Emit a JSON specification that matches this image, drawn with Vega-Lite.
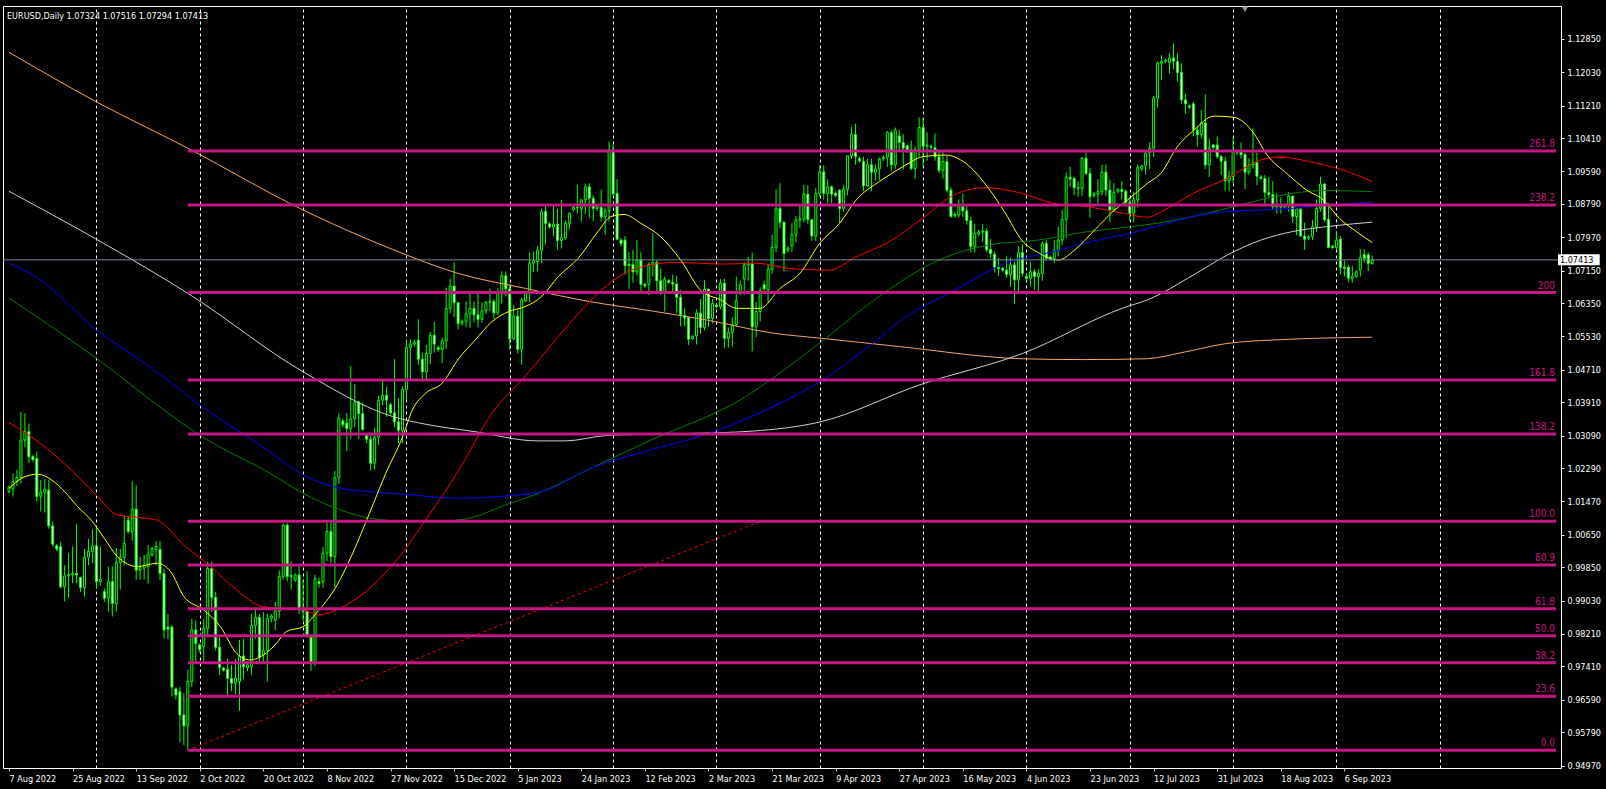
{
"$schema":"https://vega.github.io/schema/vega-lite/v6.json",
"width":1558,"height":762,
"autosize":{"type":"none"},
"padding":{"left":3,"top":6,"right":45,"bottom":21},
"background":"black",
"title":{"text":"EURUSD,Daily  1.07324 1.07516 1.07294 1.07413","anchor":"start","frame":"group","orient":"top","offset":-24,"dx":4,"color":"white","font":"DejaVu Sans Condensed, Liberation Sans","fontSize":9,"fontWeight":"normal","baseline":"bottom"},
"config":{"view":{"stroke":"white","strokeWidth":1}},
"resolve":{"axis":{"x":"independent","y":"independent"}},
"datasets":{
"candles":[
{"i":0,"o":1.0171,"h":1.0186,"l":1.0168,"c":1.0182},{"i":1,"o":1.0178,"h":1.0216,"l":1.0159,"c":1.0196},{"i":2,"o":1.0196,"h":1.0225,"l":1.0185,"c":1.0206},{"i":3,"o":1.0206,"h":1.0368,"l":1.0192,"c":1.0298},{"i":4,"o":1.0298,"h":1.0364,"l":1.0280,"c":1.0319},{"i":5,"o":1.0319,"h":1.0339,"l":1.0241,"c":1.0257},{"i":6,"o":1.0257,"h":1.0262,"l":1.0245,"c":1.0250},{"i":7,"o":1.0253,"h":1.0270,"l":1.0147,"c":1.0159},{"i":8,"o":1.0160,"h":1.0200,"l":1.0122,"c":1.0170},{"i":9,"o":1.0170,"h":1.0202,"l":1.0120,"c":1.0177},
{"i":10,"o":1.0175,"h":1.0200,"l":1.0080,"c":1.0087},{"i":11,"o":1.0087,"h":1.0097,"l":1.0036,"c":1.0042},{"i":12,"o":1.0038,"h":1.0042,"l":1.0025,"c":1.0030},{"i":13,"o":1.0036,"h":1.0047,"l":0.9933,"c":0.9937},{"i":14,"o":0.9937,"h":0.9990,"l":0.9901,"c":0.9964},{"i":15,"o":0.9964,"h":1.0020,"l":0.9909,"c":0.9967},{"i":16,"o":0.9967,"h":1.0036,"l":0.9946,"c":0.9970},{"i":17,"o":0.9970,"h":1.0092,"l":0.9946,"c":0.9966},{"i":18,"o":0.9960,"h":0.9962,"l":0.9925,"c":0.9935},{"i":19,"o":0.9935,"h":1.0030,"l":0.9913,"c":1.0010},
{"i":20,"o":1.0010,"h":1.0055,"l":0.9990,"c":1.0024},{"i":21,"o":1.0024,"h":1.0079,"l":0.9995,"c":1.0038},{"i":22,"o":1.0038,"h":1.0085,"l":0.9934,"c":0.9950},{"i":23,"o":0.9950,"h":1.0036,"l":0.9940,"c":0.9955},{"i":24,"o":0.9925,"h":0.9933,"l":0.9900,"c":0.9909},{"i":25,"o":0.9909,"h":0.9987,"l":0.9876,"c":0.9950},{"i":26,"o":0.9950,"h":0.9987,"l":0.9864,"c":0.9896},{"i":27,"o":0.9896,"h":1.0032,"l":0.9876,"c":0.9997},{"i":28,"o":0.9997,"h":1.0030,"l":0.9930,"c":1.0010},{"i":29,"o":1.0010,"h":1.0113,"l":0.9990,"c":1.0044},
{"i":30,"o":1.0101,"h":1.0110,"l":1.0068,"c":1.0073},{"i":31,"o":1.0073,"h":1.0197,"l":1.0050,"c":1.0128},{"i":32,"o":1.0128,"h":1.0188,"l":0.9954,"c":0.9978},{"i":33,"o":0.9978,"h":1.0010,"l":0.9955,"c":0.9984},{"i":34,"o":0.9983,"h":1.0015,"l":0.9955,"c":0.9990},{"i":35,"o":0.9987,"h":1.0040,"l":0.9945,"c":1.0016},{"i":36,"o":1.0015,"h":1.0035,"l":1.0012,"c":1.0031},{"i":37,"o":1.0029,"h":1.0050,"l":0.9990,"c":1.0037},{"i":38,"o":1.0029,"h":1.0050,"l":0.9954,"c":0.9970},{"i":39,"o":0.9970,"h":0.9982,"l":0.9810,"c":0.9831},
{"i":40,"o":0.9838,"h":0.9870,"l":0.9808,"c":0.9833},{"i":41,"o":0.9838,"h":0.9843,"l":0.9667,"c":0.9690},{"i":42,"o":0.9686,"h":0.9690,"l":0.9660,"c":0.9671},{"i":43,"o":0.9679,"h":0.9690,"l":0.9555,"c":0.9622},{"i":44,"o":0.9622,"h":0.9675,"l":0.9548,"c":0.9595},{"i":45,"o":0.9595,"h":0.9733,"l":0.9535,"c":0.9704},{"i":46,"o":0.9704,"h":0.9858,"l":0.9690,"c":0.9831},{"i":47,"o":0.9831,"h":0.9855,"l":0.9750,"c":0.9798},{"i":48,"o":0.9794,"h":0.9798,"l":0.9775,"c":0.9782},{"i":49,"o":0.9790,"h":0.9858,"l":0.9750,"c":0.9835},
{"i":50,"o":0.9835,"h":0.9999,"l":0.9812,"c":0.9982},{"i":51,"o":0.9982,"h":0.9999,"l":0.9875,"c":0.9911},{"i":52,"o":0.9911,"h":0.9925,"l":0.9780,"c":0.9788},{"i":53,"o":0.9788,"h":0.9815,"l":0.9720,"c":0.9739},{"i":54,"o":0.9737,"h":0.9740,"l":0.9728,"c":0.9732},{"i":55,"o":0.9734,"h":0.9760,"l":0.9670,"c":0.9712},{"i":56,"o":0.9712,"h":0.9745,"l":0.9680,"c":0.9700},{"i":57,"o":0.9700,"h":0.9759,"l":0.9673,"c":0.9713},{"i":58,"o":0.9704,"h":0.9806,"l":0.9632,"c":0.9765},{"i":59,"o":0.9767,"h":0.9809,"l":0.9710,"c":0.9741},
{"i":60,"o":0.9738,"h":0.9750,"l":0.9730,"c":0.9745},{"i":61,"o":0.9741,"h":0.9870,"l":0.9720,"c":0.9842},{"i":62,"o":0.9842,"h":0.9880,"l":0.9810,"c":0.9862},{"i":63,"o":0.9862,"h":0.9870,"l":0.9750,"c":0.9764},{"i":64,"o":0.9770,"h":0.9875,"l":0.9750,"c":0.9780},{"i":65,"o":0.9780,"h":0.9870,"l":0.9704,"c":0.9860},{"i":66,"o":0.9860,"h":0.9870,"l":0.9850,"c":0.9865},{"i":67,"o":0.9855,"h":0.9900,"l":0.9830,"c":0.9877},{"i":68,"o":0.9877,"h":0.9977,"l":0.9860,"c":0.9962},{"i":69,"o":0.9962,"h":1.0093,"l":0.9955,"c":1.0089},
{"i":70,"o":1.0089,"h":1.0093,"l":0.9950,"c":0.9962},{"i":71,"o":0.9962,"h":1.0000,"l":0.9930,"c":0.9965},{"i":72,"o":0.9953,"h":0.9970,"l":0.9950,"c":0.9966},{"i":73,"o":0.9966,"h":0.9990,"l":0.9870,"c":0.9880},{"i":74,"o":0.9880,"h":0.9954,"l":0.9853,"c":0.9877},{"i":75,"o":0.9877,"h":0.9976,"l":0.9812,"c":0.9817},{"i":76,"o":0.9814,"h":0.9820,"l":0.9730,"c":0.9748},{"i":77,"o":0.9748,"h":0.9967,"l":0.9742,"c":0.9958},{"i":78,"o":0.9950,"h":0.9960,"l":0.9935,"c":0.9945},{"i":79,"o":0.9950,"h":1.0035,"l":0.9935,"c":1.0020},
{"i":80,"o":1.0020,"h":1.0094,"l":1.0000,"c":1.0073},{"i":81,"o":1.0073,"h":1.0097,"l":0.9995,"c":1.0011},{"i":82,"o":1.0011,"h":1.0222,"l":0.9935,"c":1.0205},{"i":83,"o":1.0205,"h":1.0364,"l":1.0190,"c":1.0352},{"i":84,"o":1.0345,"h":1.0350,"l":1.0330,"c":1.0336},{"i":85,"o":1.0340,"h":1.0365,"l":1.0271,"c":1.0326},{"i":86,"o":1.0326,"h":1.0480,"l":1.0302,"c":1.0350},{"i":87,"o":1.0350,"h":1.0436,"l":1.0330,"c":1.0392},{"i":88,"o":1.0392,"h":1.0395,"l":1.0300,"c":1.0363},{"i":89,"o":1.0363,"h":1.0390,"l":1.0321,"c":1.0324},
{"i":90,"o":1.0310,"h":1.0315,"l":1.0290,"c":1.0300},{"i":91,"o":1.0300,"h":1.0310,"l":1.0223,"c":1.0241},{"i":92,"o":1.0241,"h":1.0329,"l":1.0226,"c":1.0305},{"i":93,"o":1.0305,"h":1.0407,"l":1.0286,"c":1.0396},{"i":94,"o":1.0396,"h":1.0448,"l":1.0383,"c":1.0408},{"i":95,"o":1.0408,"h":1.0429,"l":1.0355,"c":1.0396},{"i":96,"o":1.0385,"h":1.0390,"l":1.0360,"c":1.0365},{"i":97,"o":1.0365,"h":1.0497,"l":1.0330,"c":1.0343},{"i":98,"o":1.0343,"h":1.0401,"l":1.0290,"c":1.0322},{"i":99,"o":1.0322,"h":1.0430,"l":1.0290,"c":1.0422},
{"i":100,"o":1.0422,"h":1.0545,"l":1.0397,"c":1.0526},{"i":101,"o":1.0526,"h":1.0546,"l":1.0444,"c":1.0534},{"i":102,"o":1.0534,"h":1.0545,"l":1.0528,"c":1.0538},{"i":103,"o":1.0544,"h":1.0595,"l":1.0483,"c":1.0497},{"i":104,"o":1.0497,"h":1.0513,"l":1.0442,"c":1.0466},{"i":105,"o":1.0466,"h":1.0532,"l":1.0444,"c":1.0511},{"i":106,"o":1.0511,"h":1.0564,"l":1.0485,"c":1.0556},{"i":107,"o":1.0556,"h":1.0589,"l":1.0513,"c":1.0534},{"i":108,"o":1.0525,"h":1.0530,"l":1.0515,"c":1.0521},{"i":109,"o":1.0521,"h":1.0550,"l":1.0487,"c":1.0542},
{"i":110,"o":1.0542,"h":1.0673,"l":1.0522,"c":1.0622},{"i":111,"o":1.0622,"h":1.0695,"l":1.0610,"c":1.0677},{"i":112,"o":1.0677,"h":1.0736,"l":1.0600,"c":1.0636},{"i":113,"o":1.0636,"h":1.0637,"l":1.0570,"c":1.0585},{"i":114,"o":1.0585,"h":1.0595,"l":1.0580,"c":1.0590},{"i":115,"o":1.0590,"h":1.0639,"l":1.0575,"c":1.0608},{"i":116,"o":1.0608,"h":1.0658,"l":1.0573,"c":1.0622},{"i":117,"o":1.0622,"h":1.0639,"l":1.0588,"c":1.0606},{"i":118,"o":1.0606,"h":1.0659,"l":1.0575,"c":1.0595},{"i":119,"o":1.0595,"h":1.0637,"l":1.0587,"c":1.0616},
{"i":120,"o":1.0616,"h":1.0640,"l":1.0608,"c":1.0637},{"i":121,"o":1.0637,"h":1.0671,"l":1.0615,"c":1.0639},{"i":122,"o":1.0639,"h":1.0645,"l":1.0596,"c":1.0611},{"i":123,"o":1.0611,"h":1.0673,"l":1.0606,"c":1.0661},{"i":124,"o":1.0661,"h":1.0713,"l":1.0634,"c":1.0702},{"i":125,"o":1.0702,"h":1.0713,"l":1.0651,"c":1.0670},{"i":126,"o":1.0670,"h":1.0683,"l":1.0519,"c":1.0547},{"i":127,"o":1.0547,"h":1.0630,"l":1.0544,"c":1.0603},{"i":128,"o":1.0603,"h":1.0620,"l":1.0511,"c":1.0521},{"i":129,"o":1.0521,"h":1.0648,"l":1.0483,"c":1.0643},
{"i":130,"o":1.0640,"h":1.0665,"l":1.0638,"c":1.0662},{"i":131,"o":1.0663,"h":1.0760,"l":1.0637,"c":1.0733},{"i":132,"o":1.0733,"h":1.0762,"l":1.0712,"c":1.0739},{"i":133,"o":1.0737,"h":1.0776,"l":1.0713,"c":1.0765},{"i":134,"o":1.0765,"h":1.0868,"l":1.0734,"c":1.0860},{"i":135,"o":1.0860,"h":1.0874,"l":1.0780,"c":1.0831},{"i":136,"o":1.0830,"h":1.0834,"l":1.0818,"c":1.0822},{"i":137,"o":1.0822,"h":1.0874,"l":1.0800,"c":1.0829},{"i":138,"o":1.0829,"h":1.0867,"l":1.0766,"c":1.0789},{"i":139,"o":1.0789,"h":1.0889,"l":1.0769,"c":1.0796},
{"i":140,"o":1.0796,"h":1.0838,"l":1.0791,"c":1.0831},{"i":141,"o":1.0831,"h":1.0858,"l":1.0816,"c":1.0856},{"i":142,"o":1.0865,"h":1.0873,"l":1.0860,"c":1.0870},{"i":143,"o":1.0870,"h":1.0926,"l":1.0855,"c":1.0871},{"i":144,"o":1.0867,"h":1.0890,"l":1.0835,"c":1.0889},{"i":145,"o":1.0889,"h":1.0929,"l":1.0854,"c":1.0921},{"i":146,"o":1.0921,"h":1.0930,"l":1.0844,"c":1.0893},{"i":147,"o":1.0893,"h":1.0900,"l":1.0836,"c":1.0868},{"i":148,"o":1.0868,"h":1.0876,"l":1.0862,"c":1.0872},{"i":149,"o":1.0870,"h":1.0914,"l":1.0836,"c":1.0847},
{"i":150,"o":1.0847,"h":1.0870,"l":1.0803,"c":1.0862},{"i":151,"o":1.0862,"h":1.1032,"l":1.0835,"c":1.1012},{"i":152,"o":1.1012,"h":1.1026,"l":1.0900,"c":1.0903},{"i":153,"o":1.0905,"h":1.0940,"l":1.0790,"c":1.0792},{"i":154,"o":1.0790,"h":1.0795,"l":1.0775,"c":1.0782},{"i":155,"o":1.0790,"h":1.0800,"l":1.0705,"c":1.0727},{"i":156,"o":1.0727,"h":1.0760,"l":1.0670,"c":1.0730},{"i":157,"o":1.0730,"h":1.0765,"l":1.0685,"c":1.0712},{"i":158,"o":1.0712,"h":1.0790,"l":1.0703,"c":1.0741},{"i":159,"o":1.0741,"h":1.0760,"l":1.0660,"c":1.0681},
{"i":160,"o":1.0681,"h":1.0685,"l":1.0672,"c":1.0677},{"i":161,"o":1.0681,"h":1.0735,"l":1.0655,"c":1.0730},{"i":162,"o":1.0730,"h":1.0807,"l":1.0700,"c":1.0735},{"i":163,"o":1.0735,"h":1.0741,"l":1.0660,"c":1.0690},{"i":164,"o":1.0690,"h":1.0720,"l":1.0655,"c":1.0663},{"i":165,"o":1.0663,"h":1.0700,"l":1.0614,"c":1.0694},{"i":166,"o":1.0690,"h":1.0694,"l":1.0682,"c":1.0686},{"i":167,"o":1.0686,"h":1.0705,"l":1.0660,"c":1.0682},{"i":168,"o":1.0682,"h":1.0702,"l":1.0610,"c":1.0649},{"i":169,"o":1.0649,"h":1.0667,"l":1.0577,"c":1.0606},
{"i":170,"o":1.0605,"h":1.0622,"l":1.0577,"c":1.0598},{"i":171,"o":1.0600,"h":1.0600,"l":1.0532,"c":1.0546},{"i":172,"o":1.0548,"h":1.0556,"l":1.0545,"c":1.0553},{"i":173,"o":1.0554,"h":1.0620,"l":1.0533,"c":1.0610},{"i":174,"o":1.0610,"h":1.0645,"l":1.0560,"c":1.0575},{"i":175,"o":1.0575,"h":1.0691,"l":1.0568,"c":1.0669},{"i":176,"o":1.0669,"h":1.0671,"l":1.0577,"c":1.0597},{"i":177,"o":1.0597,"h":1.0645,"l":1.0585,"c":1.0634},{"i":178,"o":1.0630,"h":1.0634,"l":1.0622,"c":1.0626},{"i":179,"o":1.0626,"h":1.0694,"l":1.0620,"c":1.0684},
{"i":180,"o":1.0684,"h":1.0695,"l":1.0524,"c":1.0548},{"i":181,"o":1.0548,"h":1.0575,"l":1.0525,"c":1.0563},{"i":182,"o":1.0563,"h":1.0600,"l":1.0528,"c":1.0582},{"i":183,"o":1.0582,"h":1.0700,"l":1.0577,"c":1.0641},{"i":184,"o":1.0660,"h":1.0690,"l":1.0655,"c":1.0680},{"i":185,"o":1.0694,"h":1.0736,"l":1.0655,"c":1.0729},{"i":186,"o":1.0729,"h":1.0749,"l":1.0690,"c":1.0733},{"i":187,"o":1.0732,"h":1.0759,"l":1.0516,"c":1.0577},{"i":188,"o":1.0577,"h":1.0638,"l":1.0551,"c":1.0614},{"i":189,"o":1.0614,"h":1.0674,"l":1.0590,"c":1.0665},
{"i":190,"o":1.0680,"h":1.0690,"l":1.0660,"c":1.0670},{"i":191,"o":1.0668,"h":1.0729,"l":1.0636,"c":1.0718},{"i":192,"o":1.0718,"h":1.0803,"l":1.0707,"c":1.0772},{"i":193,"o":1.0772,"h":1.0915,"l":1.0760,"c":1.0868},{"i":194,"o":1.0868,"h":1.0930,"l":1.0819,"c":1.0834},{"i":195,"o":1.0834,"h":1.0835,"l":1.0713,"c":1.0757},{"i":196,"o":1.0765,"h":1.0775,"l":1.0760,"c":1.0770},{"i":197,"o":1.0776,"h":1.0831,"l":1.0760,"c":1.0804},{"i":198,"o":1.0804,"h":1.0849,"l":1.0785,"c":1.0839},{"i":199,"o":1.0839,"h":1.0875,"l":1.0820,"c":1.0843},
{"i":200,"o":1.0841,"h":1.0926,"l":1.0833,"c":1.0903},{"i":201,"o":1.0903,"h":1.0925,"l":1.0830,"c":1.0841},{"i":202,"o":1.0840,"h":1.0842,"l":1.0788,"c":1.0800},{"i":203,"o":1.0800,"h":1.0918,"l":1.0788,"c":1.0905},{"i":204,"o":1.0905,"h":1.0973,"l":1.0897,"c":1.0958},{"i":205,"o":1.0958,"h":1.0974,"l":1.0890,"c":1.0905},{"i":206,"o":1.0905,"h":1.0940,"l":1.0880,"c":1.0921},{"i":207,"o":1.0921,"h":1.0925,"l":1.0880,"c":1.0903},{"i":208,"o":1.0905,"h":1.0910,"l":1.0895,"c":1.0900},{"i":209,"o":1.0913,"h":1.0915,"l":1.0832,"c":1.0868},
{"i":210,"o":1.0868,"h":1.0925,"l":1.0860,"c":1.0915},{"i":211,"o":1.0915,"h":1.0998,"l":1.0900,"c":1.0997},{"i":212,"o":1.0997,"h":1.1069,"l":1.0990,"c":1.1050},{"i":213,"o":1.1050,"h":1.1076,"l":1.0975,"c":1.0995},{"i":214,"o":1.0990,"h":1.0995,"l":1.0980,"c":1.0985},{"i":215,"o":1.0983,"h":1.0995,"l":1.0910,"c":1.0923},{"i":216,"o":1.0923,"h":1.0990,"l":1.0920,"c":1.0975},{"i":217,"o":1.0975,"h":1.0990,"l":1.0910,"c":1.0957},{"i":218,"o":1.0957,"h":1.0976,"l":1.0936,"c":1.0965},{"i":219,"o":1.0965,"h":1.0993,"l":1.0937,"c":1.0989},
{"i":220,"o":1.0990,"h":1.0998,"l":1.0985,"c":1.0994},{"i":221,"o":1.0994,"h":1.1058,"l":1.0970,"c":1.1055},{"i":222,"o":1.1054,"h":1.1060,"l":1.0960,"c":1.0975},{"i":223,"o":1.0975,"h":1.1067,"l":1.0965,"c":1.1061},{"i":224,"o":1.1046,"h":1.1062,"l":1.1010,"c":1.1030},{"i":225,"o":1.1030,"h":1.1051,"l":1.0963,"c":1.1016},{"i":226,"o":1.1022,"h":1.1025,"l":1.1005,"c":1.1010},{"i":227,"o":1.1012,"h":1.1035,"l":1.0962,"c":1.0966},{"i":228,"o":1.0966,"h":1.1020,"l":1.0941,"c":1.1013},{"i":229,"o":1.1013,"h":1.1092,"l":1.0995,"c":1.1067},
{"i":230,"o":1.1067,"h":1.1091,"l":1.0970,"c":1.1021},{"i":231,"o":1.1021,"h":1.1055,"l":1.0985,"c":1.1024},{"i":232,"o":1.1020,"h":1.1025,"l":1.1012,"c":1.1018},{"i":233,"o":1.1017,"h":1.1052,"l":1.0985,"c":1.0995},{"i":234,"o":1.0995,"h":1.1010,"l":1.0955,"c":1.0962},{"i":235,"o":1.0962,"h":1.1006,"l":1.0941,"c":1.0983},{"i":236,"o":1.0983,"h":1.0998,"l":1.0907,"c":1.0913},{"i":237,"o":1.0913,"h":1.0920,"l":1.0845,"c":1.0848},{"i":238,"o":1.0850,"h":1.0858,"l":1.0845,"c":1.0853},{"i":239,"o":1.0852,"h":1.0890,"l":1.0845,"c":1.0872},
{"i":240,"o":1.0872,"h":1.0904,"l":1.0847,"c":1.0862},{"i":241,"o":1.0862,"h":1.0876,"l":1.0828,"c":1.0838},{"i":242,"o":1.0838,"h":1.0847,"l":1.0760,"c":1.0774},{"i":243,"o":1.0774,"h":1.0830,"l":1.0759,"c":1.0807},{"i":244,"o":1.0805,"h":1.0815,"l":1.0800,"c":1.0810},{"i":245,"o":1.0810,"h":1.0830,"l":1.0785,"c":1.0812},{"i":246,"o":1.0812,"h":1.0820,"l":1.0760,"c":1.0766},{"i":247,"o":1.0767,"h":1.0793,"l":1.0746,"c":1.0757},{"i":248,"o":1.0755,"h":1.0762,"l":1.0710,"c":1.0723},{"i":249,"o":1.0723,"h":1.0746,"l":1.0702,"c":1.0720},
{"i":250,"o":1.0720,"h":1.0724,"l":1.0712,"c":1.0716},{"i":251,"o":1.0716,"h":1.0750,"l":1.0697,"c":1.0705},{"i":252,"o":1.0705,"h":1.0746,"l":1.0675,"c":1.0729},{"i":253,"o":1.0729,"h":1.0737,"l":1.0634,"c":1.0692},{"i":254,"o":1.0692,"h":1.0775,"l":1.0664,"c":1.0759},{"i":255,"o":1.0759,"h":1.0780,"l":1.0700,"c":1.0708},{"i":256,"o":1.0700,"h":1.0707,"l":1.0690,"c":1.0696},{"i":257,"o":1.0696,"h":1.0737,"l":1.0676,"c":1.0712},{"i":258,"o":1.0712,"h":1.0719,"l":1.0668,"c":1.0700},{"i":259,"o":1.0700,"h":1.0718,"l":1.0665,"c":1.0708},
{"i":260,"o":1.0708,"h":1.0787,"l":1.0690,"c":1.0782},{"i":261,"o":1.0782,"h":1.0790,"l":1.0740,"c":1.0745},{"i":262,"o":1.0748,"h":1.0752,"l":1.0740,"c":1.0745},{"i":263,"o":1.0745,"h":1.0790,"l":1.0733,"c":1.0764},{"i":264,"o":1.0764,"h":1.0823,"l":1.0750,"c":1.0790},{"i":265,"o":1.0790,"h":1.0864,"l":1.0778,"c":1.0841},{"i":266,"o":1.0841,"h":1.0956,"l":1.0795,"c":1.0944},{"i":267,"o":1.0944,"h":1.0970,"l":1.0921,"c":1.0940},{"i":268,"o":1.0942,"h":1.0945,"l":1.0900,"c":1.0919},{"i":269,"o":1.0919,"h":1.0934,"l":1.0896,"c":1.0917},
{"i":270,"o":1.0917,"h":1.0995,"l":1.0898,"c":1.0991},{"i":271,"o":1.0991,"h":1.1012,"l":1.0950,"c":1.0954},{"i":272,"o":1.0954,"h":1.0968,"l":1.0845,"c":1.0897},{"i":273,"o":1.0900,"h":1.0908,"l":1.0895,"c":1.0904},{"i":274,"o":1.0904,"h":1.0940,"l":1.0880,"c":1.0909},{"i":275,"o":1.0909,"h":1.0975,"l":1.0900,"c":1.0957},{"i":276,"o":1.0957,"h":1.0976,"l":1.0898,"c":1.0913},{"i":277,"o":1.0913,"h":1.0939,"l":1.0835,"c":1.0864},{"i":278,"o":1.0864,"h":1.0930,"l":1.0861,"c":1.0907},{"i":279,"o":1.0910,"h":1.0918,"l":1.0905,"c":1.0914},
{"i":280,"o":1.0914,"h":1.0935,"l":1.0890,"c":1.0910},{"i":281,"o":1.0910,"h":1.0915,"l":1.0875,"c":1.0882},{"i":282,"o":1.0882,"h":1.0895,"l":1.0837,"c":1.0856},{"i":283,"o":1.0856,"h":1.0908,"l":1.0833,"c":1.0889},{"i":284,"o":1.0889,"h":1.0975,"l":1.0870,"c":1.0969},{"i":285,"o":1.0965,"h":1.0975,"l":1.0960,"c":1.0972},{"i":286,"o":1.0974,"h":1.1010,"l":1.0951,"c":1.1004},{"i":287,"o":1.1004,"h":1.1030,"l":1.0965,"c":1.1016},{"i":288,"o":1.1016,"h":1.1145,"l":1.0995,"c":1.1139},{"i":289,"o":1.1139,"h":1.1230,"l":1.1116,"c":1.1225},
{"i":290,"o":1.1225,"h":1.1245,"l":1.1185,"c":1.1229},{"i":291,"o":1.1230,"h":1.1236,"l":1.1225,"c":1.1232},{"i":292,"o":1.1226,"h":1.1250,"l":1.1200,"c":1.1238},{"i":293,"o":1.1238,"h":1.1274,"l":1.1210,"c":1.1230},{"i":294,"o":1.1229,"h":1.1250,"l":1.1180,"c":1.1202},{"i":295,"o":1.1202,"h":1.1225,"l":1.1125,"c":1.1135},{"i":296,"o":1.1135,"h":1.1150,"l":1.1100,"c":1.1125},{"i":297,"o":1.1120,"h":1.1124,"l":1.1112,"c":1.1117},{"i":298,"o":1.1125,"h":1.1130,"l":1.1045,"c":1.1061},{"i":299,"o":1.1061,"h":1.1070,"l":1.1020,"c":1.1049},
{"i":300,"o":1.1049,"h":1.1110,"l":1.1040,"c":1.1078},{"i":301,"o":1.1078,"h":1.1149,"l":1.0965,"c":1.0975},{"i":302,"o":1.0975,"h":1.1040,"l":1.0945,"c":1.1016},{"i":303,"o":1.1024,"h":1.1026,"l":1.1012,"c":1.1018},{"i":304,"o":1.1024,"h":1.1045,"l":1.0990,"c":1.0995},{"i":305,"o":1.0995,"h":1.1000,"l":1.0950,"c":1.0984},{"i":306,"o":1.0984,"h":1.0995,"l":1.0912,"c":1.0936},{"i":307,"o":1.0936,"h":1.0960,"l":1.0910,"c":1.0946},{"i":308,"o":1.0946,"h":1.1042,"l":1.0930,"c":1.1007},{"i":309,"o":1.1005,"h":1.1012,"l":1.1000,"c":1.1008},
{"i":310,"o":1.1008,"h":1.1030,"l":1.0990,"c":1.1000},{"i":311,"o":1.1000,"h":1.1005,"l":1.0915,"c":1.0957},{"i":312,"o":1.0957,"h":1.0992,"l":1.0950,"c":1.0975},{"i":313,"o":1.0975,"h":1.1065,"l":1.0965,"c":1.0981},{"i":314,"o":1.0981,"h":1.1005,"l":1.0925,"c":1.0947},{"i":315,"o":1.0945,"h":1.0950,"l":1.0938,"c":1.0942},{"i":316,"o":1.0942,"h":1.0950,"l":1.0875,"c":1.0907},{"i":317,"o":1.0907,"h":1.0945,"l":1.0895,"c":1.0902},{"i":318,"o":1.0902,"h":1.0935,"l":1.0865,"c":1.0872},{"i":319,"o":1.0872,"h":1.0905,"l":1.0855,"c":1.0875},
{"i":320,"o":1.0875,"h":1.0895,"l":1.0855,"c":1.0872},{"i":321,"o":1.0872,"h":1.0880,"l":1.0868,"c":1.0876},{"i":322,"o":1.0876,"h":1.0908,"l":1.0860,"c":1.0898},{"i":323,"o":1.0898,"h":1.0900,"l":1.0832,"c":1.0848},{"i":324,"o":1.0848,"h":1.0868,"l":1.0802,"c":1.0866},{"i":325,"o":1.0866,"h":1.0869,"l":1.0798,"c":1.0800},{"i":326,"o":1.0800,"h":1.0833,"l":1.0766,"c":1.0792},{"i":327,"o":1.0795,"h":1.0802,"l":1.0790,"c":1.0798},{"i":328,"o":1.0798,"h":1.0840,"l":1.0790,"c":1.0823},{"i":329,"o":1.0823,"h":1.0890,"l":1.0810,"c":1.0868},
{"i":330,"o":1.0868,"h":1.0946,"l":1.0860,"c":1.0928},{"i":331,"o":1.0928,"h":1.0930,"l":1.0835,"c":1.0840},{"i":332,"o":1.0841,"h":1.0881,"l":1.0770,"c":1.0772},{"i":333,"o":1.0775,"h":1.0778,"l":1.0768,"c":1.0772},{"i":334,"o":1.0772,"h":1.0810,"l":1.0767,"c":1.0790},{"i":335,"o":1.0792,"h":1.0800,"l":1.0705,"c":1.0723},{"i":336,"o":1.0723,"h":1.0740,"l":1.0700,"c":1.0720},{"i":337,"o":1.0723,"h":1.0729,"l":1.0686,"c":1.0696},{"i":338,"o":1.0696,"h":1.0727,"l":1.0685,"c":1.0700},{"i":339,"o":1.0700,"h":1.0716,"l":1.0698,"c":1.0712},
{"i":340,"o":1.0716,"h":1.0768,"l":1.0700,"c":1.0747},{"i":341,"o":1.0754,"h":1.0768,"l":1.0735,"c":1.0745},{"i":342,"o":1.0754,"h":1.0760,"l":1.0714,"c":1.0733},{"i":343,"o":1.07324,"h":1.07516,"l":1.07294,"c":1.07413}
],
"maYellow":[{"i":0,"v":1.0179},{"i":4,"v":1.0208},{"i":7.3,"v":1.0214},{"i":10.7,"v":1.0200},{"i":14,"v":1.0171},{"i":17.3,"v":1.0134},{"i":20.7,"v":1.0101},{"i":24,"v":1.0056},{"i":27.3,"v":1.0011},{"i":29.8,"v":0.9993},{"i":32.3,"v":0.9987},{"i":37.3,"v":0.9995},{"i":40.7,"v":0.9974},{"i":44,"v":0.9913},{"i":49,"v":0.9880},{"i":53.2,"v":0.9839},{"i":57.3,"v":0.9773},{"i":60.7,"v":0.9757},{"i":64,"v":0.9769},{"i":67.3,"v":0.9798},{"i":69.8,"v":0.9827},{"i":74,"v":0.9839},{"i":77.3,"v":0.9872},{"i":82.3,"v":0.9937},{"i":86.5,"v":1.0020},{"i":90.7,"v":1.0118},{"i":94.8,"v":1.0216},{"i":99,"v":1.0305},{"i":101.5,"v":1.0372},{"i":104.8,"v":1.0413},{"i":109,"v":1.0438},{"i":113.2,"v":1.0499},{"i":117.3,"v":1.0544},{"i":121.5,"v":1.0589},{"i":125.7,"v":1.0614},{"i":129.8,"v":1.0626},{"i":134,"v":1.0651},{"i":138.2,"v":1.0700},{"i":143.2,"v":1.0745},{"i":148.2,"v":1.0811},{"i":151.5,"v":1.0848},{"i":154.8,"v":1.0853},{"i":159,"v":1.0831},{"i":164,"v":1.0798},{"i":169,"v":1.0741},{"i":174,"v":1.0667},{"i":179,"v":1.0643},{"i":183.2,"v":1.0622},{"i":189,"v":1.0622},{"i":194,"v":1.0671},{"i":199,"v":1.0708},{"i":204,"v":1.0782},{"i":209,"v":1.0831},{"i":213.2,"v":1.0889},{"i":219,"v":1.0934},{"i":221.5,"v":1.0950},{"i":225.7,"v":1.0975},{"i":229.8,"v":1.0995},{"i":235.7,"v":1.0999},{"i":240.7,"v":1.0979},{"i":246.5,"v":1.0917},{"i":250.7,"v":1.0856},{"i":254.8,"v":1.0790},{"i":259,"v":1.0759},{"i":264,"v":1.0741},{"i":268.2,"v":1.0766},{"i":273.2,"v":1.0815},{"i":278.2,"v":1.0864},{"i":281.5,"v":1.0889},{"i":286.5,"v":1.0930},{"i":289.8,"v":1.0954},{"i":294,"v":1.1020},{"i":298.2,"v":1.1061},{"i":303.2,"v":1.1095},{"i":308.2,"v":1.1092},{"i":313.2,"v":1.1053},{"i":316.5,"v":1.1000},{"i":321.5,"v":1.0954},{"i":326.5,"v":1.0913},{"i":330.7,"v":1.0889},{"i":334.8,"v":1.0843},{"i":339,"v":1.0811},{"i":343,"v":1.0784}],
"maRed":[{"i":0,"v":1.0341},{"i":9,"v":1.0282},{"i":15.7,"v":1.0224},{"i":22.3,"v":1.0159},{"i":27.3,"v":1.0114},{"i":34,"v":1.0106},{"i":37.3,"v":1.0101},{"i":44,"v":1.0040},{"i":50.7,"v":0.9987},{"i":57.3,"v":0.9929},{"i":64,"v":0.9888},{"i":74,"v":0.9880},{"i":78,"v":0.9868},{"i":82.3,"v":0.9880},{"i":90.7,"v":0.9933},{"i":98.2,"v":1.0011},{"i":104.8,"v":1.0101},{"i":113.2,"v":1.0224},{"i":121.5,"v":1.0364},{"i":129.8,"v":1.0454},{"i":138.2,"v":1.0552},{"i":146.5,"v":1.0643},{"i":154.8,"v":1.0708},{"i":161.5,"v":1.0729},{"i":167.3,"v":1.0735},{"i":179.8,"v":1.0731},{"i":188.2,"v":1.0733},{"i":196.5,"v":1.0720},{"i":206.5,"v":1.0716},{"i":213.2,"v":1.0749},{"i":221.5,"v":1.0786},{"i":229.8,"v":1.0843},{"i":238.2,"v":1.0903},{"i":245.7,"v":1.0919},{"i":254.8,"v":1.0905},{"i":263,"v":1.0880},{"i":271.5,"v":1.0872},{"i":279.8,"v":1.0857},{"i":286.5,"v":1.0846},{"i":290,"v":1.0860},{"i":298,"v":1.0905},{"i":306.5,"v":1.0942},{"i":315,"v":1.0987},{"i":320,"v":1.0994},{"i":327.3,"v":1.0983},{"i":335.7,"v":1.0962},{"i":343,"v":1.0934}],
"maGreen":[{"i":0,"v":1.0647},{"i":22,"v":1.0499},{"i":39,"v":1.0372},{"i":48,"v":1.0310},{"i":65.7,"v":1.0216},{"i":74,"v":1.0167},{"i":82.3,"v":1.0130},{"i":92.7,"v":1.0103},{"i":104,"v":1.0097},{"i":114.4,"v":1.0103},{"i":124.8,"v":1.0138},{"i":133.2,"v":1.0167},{"i":146.5,"v":1.0229},{"i":161.5,"v":1.0298},{"i":184,"v":1.0397},{"i":202.3,"v":1.0524},{"i":221.5,"v":1.0669},{"i":234,"v":1.0741},{"i":246.5,"v":1.0778},{"i":259,"v":1.0790},{"i":271.5,"v":1.0811},{"i":281.5,"v":1.0822},{"i":290,"v":1.0833},{"i":298,"v":1.0848},{"i":306.5,"v":1.0868},{"i":315,"v":1.0889},{"i":323,"v":1.0905},{"i":331.5,"v":1.0912},{"i":343,"v":1.0909}],
"maBlue":[{"i":0,"v":1.0733},{"i":7.3,"v":1.0696},{"i":22,"v":1.0569},{"i":32.3,"v":1.0499},{"i":39.8,"v":1.0446},{"i":48,"v":1.0384},{"i":65.7,"v":1.0269},{"i":74,"v":1.0212},{"i":82.3,"v":1.0182},{"i":90.7,"v":1.0171},{"i":99,"v":1.0165},{"i":113,"v":1.0155},{"i":125.7,"v":1.0161},{"i":134,"v":1.0171},{"i":146.5,"v":1.0229},{"i":161.5,"v":1.0274},{"i":175.7,"v":1.0313},{"i":195.7,"v":1.0397},{"i":204.8,"v":1.0446},{"i":217.3,"v":1.0536},{"i":224.8,"v":1.0595},{"i":238,"v":1.0667},{"i":250.7,"v":1.0733},{"i":263,"v":1.0762},{"i":275.7,"v":1.0794},{"i":281.5,"v":1.0805},{"i":290,"v":1.0827},{"i":298,"v":1.0848},{"i":306.5,"v":1.0860},{"i":315,"v":1.0864},{"i":323,"v":1.0868},{"i":331.5,"v":1.0876},{"i":343,"v":1.0883}],
"maWhite":[{"i":0,"v":1.0910},{"i":22,"v":1.0792},{"i":45,"v":1.0659},{"i":74,"v":1.0466},{"i":96.5,"v":1.0356},{"i":104.8,"v":1.0337},{"i":117,"v":1.0319},{"i":133,"v":1.0296},{"i":140,"v":1.0296},{"i":150,"v":1.0309},{"i":155,"v":1.0311},{"i":170,"v":1.0314},{"i":187,"v":1.0320},{"i":203.8,"v":1.0342},{"i":229.5,"v":1.0435},{"i":255,"v":1.0511},{"i":280.6,"v":1.0624},{"i":286.5,"v":1.0643},{"i":298,"v":1.0704},{"i":306.5,"v":1.0753},{"i":315,"v":1.0790},{"i":323,"v":1.0811},{"i":331.5,"v":1.0823},{"i":343,"v":1.0834}],
"maOrange":[{"i":0,"v":1.1252},{"i":22,"v":1.1130},{"i":45,"v":1.1016},{"i":74,"v":1.0864},{"i":96.5,"v":1.0767},{"i":113,"v":1.0708},{"i":130,"v":1.0671},{"i":146.5,"v":1.0638},{"i":161.5,"v":1.0616},{"i":175.7,"v":1.0593},{"i":192.3,"v":1.0561},{"i":204.8,"v":1.0548},{"i":224,"v":1.0528},{"i":255,"v":1.0498},{"i":270,"v":1.0496},{"i":286,"v":1.0498},{"i":296,"v":1.0515},{"i":306,"v":1.0535},{"i":320,"v":1.0545},{"i":343,"v":1.0551}],
"fib":[{"lab":"0.0","p":0.9535},{"lab":"23.6","p":0.96679},{"lab":"38.2","p":0.97501},{"lab":"50.0","p":0.98165},{"lab":"61.8","p":0.98829},{"lab":"80.9","p":0.99905},{"lab":"100.0","p":1.0098},{"lab":"138.2","p":1.03131},{"lab":"161.8","p":1.04459},{"lab":"200","p":1.0661},{"lab":"238.2","p":1.08761},{"lab":"261.8","p":1.10089}],
"trend":[{"i":45,"p":0.9535},{"i":189,"p":1.0098}],
"price":[{"p":1.07413,"t":"1.07413"}],
"shift":[{"i":311}]
},
"layer":[
{"data":{"name":"candles"},"mark":{"type":"rule","color":"#00ff00","strokeWidth":1},
 "encoding":{
  "x":{"field":"i","type":"quantitative","scale":{"domain":[-0.25,389.25],"nice":false,"zero":false},
   "axis":{"orient":"top","values":[22,48,74,100,126,152,178,204,230,256,282,308,334,360],"grid":true,"gridColor":"#ffffff","gridDash":[3,3],"gridWidth":1,"gridOpacity":1,"labels":false,"ticks":false,"domain":false,"title":null,"minExtent":0,"maxExtent":0}},
  "y":{"field":"l","type":"quantitative","scale":{"domain":[0.94913,1.13658],"nice":false,"zero":false},
   "axis":{"orient":"right","values":[0.9497,0.9579,0.9659,0.9741,0.9821,0.9903,0.9985,1.0065,1.0147,1.0229,1.0309,1.0391,1.0471,1.0553,1.0635,1.0715,1.0797,1.0879,1.0959,1.1041,1.1121,1.1203,1.1285],
    "format":".5f","grid":false,"domain":false,"ticks":true,"tickSize":3,"tickColor":"#ffffff","tickWidth":1,"labelColor":"#ffffff","labelFont":"DejaVu Sans Condensed, Liberation Sans","labelFontSize":9,"labelPadding":3,"labelOverlap":false,"labelBound":false,"labelFlush":false,"title":null,"offset":0,"minExtent":0}},
  "y2":{"field":"h"}}},
{"data":{"name":"candles"},"mark":{"type":"bar","size":2,"stroke":"#00ff00","strokeWidth":1},
 "encoding":{
  "x":{"field":"i","type":"quantitative","scale":{"domain":[-0.25,389.25],"nice":false,"zero":false},
   "axis":{"orient":"bottom","values":[0,16,32,48,64,80,96,112,128,144,160,176,192,208,224,240,256,272,288,304,320,336],
    "labelExpr":"['7 Aug 2022','25 Aug 2022','13 Sep 2022','2 Oct 2022','20 Oct 2022','8 Nov 2022','27 Nov 2022','15 Dec 2022','5 Jan 2023','24 Jan 2023','12 Feb 2023','2 Mar 2023','21 Mar 2023','9 Apr 2023','27 Apr 2023','16 May 2023','4 Jun 2023','23 Jun 2023','12 Jul 2023','31 Jul 2023','18 Aug 2023','6 Sep 2023'][round(datum.value/16)]",
    "grid":false,"domain":false,"ticks":true,"tickSize":3,"tickColor":"#c0c0c0","labelColor":"#ffffff","labelFont":"DejaVu Sans Condensed, Liberation Sans","labelFontSize":9,"labelAlign":"left","labelDx":1,"labelBaseline":"middle","labelPadding":7,"labelOverlap":false,"labelBound":false,"labelFlush":false,"title":null}},
  "y":{"field":"o","type":"quantitative","scale":{"domain":[0.94913,1.13658],"nice":false,"zero":false},"axis":null},
  "y2":{"field":"c"},
  "fill":{"condition":{"test":"datum.c < datum.o","value":"#ffffff"},"value":"#000000"}}},
{"data":{"name":"maOrange"},"mark":{"type":"line","color":"#f4a460","strokeWidth":1,"interpolate":"monotone"},
 "encoding":{"x":{"field":"i","type":"quantitative","scale":{"domain":[-0.25,389.25],"nice":false,"zero":false},"axis":null},"y":{"field":"v","type":"quantitative","scale":{"domain":[0.94913,1.13658],"nice":false,"zero":false},"axis":null}}},
{"data":{"name":"maWhite"},"mark":{"type":"line","color":"#d0d0d0","strokeWidth":1,"interpolate":"monotone"},
 "encoding":{"x":{"field":"i","type":"quantitative","scale":{"domain":[-0.25,389.25],"nice":false,"zero":false},"axis":null},"y":{"field":"v","type":"quantitative","scale":{"domain":[0.94913,1.13658],"nice":false,"zero":false},"axis":null}}},
{"data":{"name":"maGreen"},"mark":{"type":"line","color":"#008000","strokeWidth":1,"interpolate":"monotone"},
 "encoding":{"x":{"field":"i","type":"quantitative","scale":{"domain":[-0.25,389.25],"nice":false,"zero":false},"axis":null},"y":{"field":"v","type":"quantitative","scale":{"domain":[0.94913,1.13658],"nice":false,"zero":false},"axis":null}}},
{"data":{"name":"maBlue"},"mark":{"type":"line","color":"#0000ff","strokeWidth":1,"interpolate":"monotone"},
 "encoding":{"x":{"field":"i","type":"quantitative","scale":{"domain":[-0.25,389.25],"nice":false,"zero":false},"axis":null},"y":{"field":"v","type":"quantitative","scale":{"domain":[0.94913,1.13658],"nice":false,"zero":false},"axis":null}}},
{"data":{"name":"maRed"},"mark":{"type":"line","color":"#ff0000","strokeWidth":1,"interpolate":"monotone"},
 "encoding":{"x":{"field":"i","type":"quantitative","scale":{"domain":[-0.25,389.25],"nice":false,"zero":false},"axis":null},"y":{"field":"v","type":"quantitative","scale":{"domain":[0.94913,1.13658],"nice":false,"zero":false},"axis":null}}},
{"data":{"name":"maYellow"},"mark":{"type":"line","color":"#ffff00","strokeWidth":1,"interpolate":"monotone"},
 "encoding":{"x":{"field":"i","type":"quantitative","scale":{"domain":[-0.25,389.25],"nice":false,"zero":false},"axis":null},"y":{"field":"v","type":"quantitative","scale":{"domain":[0.94913,1.13658],"nice":false,"zero":false},"axis":null}}},
{"data":{"name":"trend"},"mark":{"type":"line","color":"#ff0000","strokeWidth":1,"strokeDash":[3,3]},
 "encoding":{"x":{"field":"i","type":"quantitative","scale":{"domain":[-0.25,389.25],"nice":false,"zero":false},"axis":null},"y":{"field":"p","type":"quantitative","scale":{"domain":[0.94913,1.13658],"nice":false,"zero":false},"axis":null}}},
{"data":{"name":"fib"},"mark":{"type":"rule","color":"#c71585","strokeWidth":3},
 "encoding":{"x":{"datum":45,"type":"quantitative","scale":{"domain":[-0.25,389.25],"nice":false,"zero":false},"axis":null},"x2":{"datum":389.25},"y":{"field":"p","type":"quantitative","scale":{"domain":[0.94913,1.13658],"nice":false,"zero":false},"axis":null}}},
{"data":{"name":"fib"},"mark":{"type":"text","color":"#c71585","align":"right","baseline":"bottom","dy":-2,"font":"DejaVu Sans Condensed, Liberation Sans","fontSize":10},
 "encoding":{"x":{"datum":389,"type":"quantitative","scale":{"domain":[-0.25,389.25],"nice":false,"zero":false},"axis":null},"y":{"field":"p","type":"quantitative","scale":{"domain":[0.94913,1.13658],"nice":false,"zero":false},"axis":null},"text":{"field":"lab"}}},
{"data":{"name":"price"},"mark":{"type":"rule","color":"#778899","strokeWidth":1},
 "encoding":{"y":{"field":"p","type":"quantitative","scale":{"domain":[0.94913,1.13658],"nice":false,"zero":false},"axis":null}}},
{"data":{"name":"price"},"mark":{"type":"rect","fill":"#ffffff","yOffset":-5.5,"y2Offset":5.5},
 "encoding":{"x":{"datum":389.75,"type":"quantitative","scale":{"domain":[-0.25,389.25],"nice":false,"zero":false},"axis":null},"x2":{"datum":400.25},"y":{"field":"p","type":"quantitative","scale":{"domain":[0.94913,1.13658],"nice":false,"zero":false},"axis":null},"y2":{"field":"p"}}},
{"data":{"name":"price"},"mark":{"type":"text","color":"#000000","align":"left","baseline":"middle","font":"DejaVu Sans Condensed, Liberation Sans","fontSize":9},
 "encoding":{"x":{"datum":390.25,"type":"quantitative","scale":{"domain":[-0.25,389.25],"nice":false,"zero":false},"axis":null},"y":{"field":"p","type":"quantitative","scale":{"domain":[0.94913,1.13658],"nice":false,"zero":false},"axis":null},"text":{"field":"t"}}},
{"data":{"name":"shift"},"mark":{"type":"point","shape":"triangle-down","filled":true,"color":"#8a9aab","size":40,"opacity":1},
 "encoding":{"x":{"field":"i","type":"quantitative","scale":{"domain":[-0.25,389.25],"nice":false,"zero":false},"axis":null},"y":{"datum":1.13578,"type":"quantitative","scale":{"domain":[0.94913,1.13658],"nice":false,"zero":false},"axis":null}}}
]
}
